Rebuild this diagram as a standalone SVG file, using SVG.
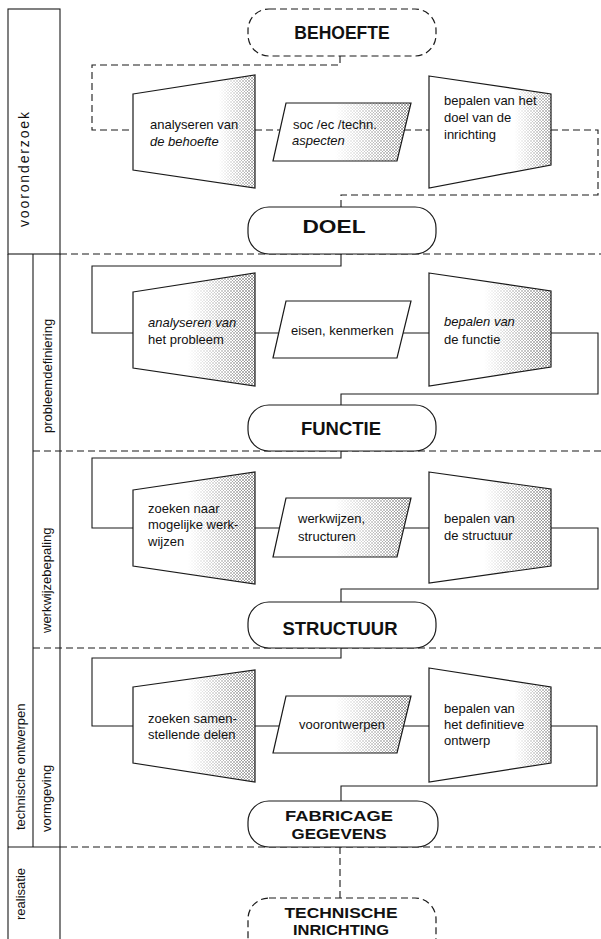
<svg xmlns="http://www.w3.org/2000/svg" width="601" height="939" viewBox="0 0 601 939">
<style>
.bg{fill:#fff}
.line{fill:none;stroke:#1a1a1a;stroke-width:1.1}
.dash{stroke-dasharray:7 4}
.node{fill:#fff;stroke:#1a1a1a;stroke-width:1.2}
.shape{fill:#fff;stroke:none}
.shade{fill:url(#hatch);stroke:none}
.edge{fill:none;stroke:#1a1a1a;stroke-width:1.2}
.t{font-family:"Liberation Sans",Arial,sans-serif;font-size:13px;fill:#111}
.i{font-style:italic}
.b{font-family:"Liberation Sans",Arial,sans-serif;font-weight:bold;font-size:17.5px;fill:#111;text-anchor:middle}
.b2{font-family:"Liberation Sans",Arial,sans-serif;font-weight:bold;font-size:15px;fill:#111;text-anchor:middle}
</style>
<defs>
<pattern id="hatch" width="3" height="3" patternUnits="userSpaceOnUse">
<path d="M0,0 L3,3 M3,0 L0,3" stroke="#555" stroke-width="0.5"/>
</pattern>
<linearGradient id="gR" x1="0" y1="0" x2="1" y2="0">
<stop offset="0.45" stop-color="#000"/>
<stop offset="0.97" stop-color="#fff"/>
</linearGradient>
<linearGradient id="gR2" x1="0" y1="0" x2="1" y2="0">
<stop offset="0.7" stop-color="#000"/>
<stop offset="1" stop-color="#ddd"/>
</linearGradient>
<mask id="mR" maskUnits="objectBoundingBox" maskContentUnits="objectBoundingBox" x="0" y="0" width="1" height="1">
<rect width="1" height="1" fill="url(#gR)"/>
</mask>
<mask id="mR2" maskUnits="objectBoundingBox" maskContentUnits="objectBoundingBox" x="0" y="0" width="1" height="1">
<rect width="1" height="1" fill="url(#gR2)"/>
</mask>
</defs>
<rect class="bg" x="0" y="0" width="601" height="939"/>

<g id="lanes">
<rect class="line" x="8" y="9" width="52" height="245"/>
<path class="line" d="M8,254 V939 M60,254 V939 M33,254 V847 M8,847 H60"/>
<path class="line dash" d="M60,254 H601 M33,451 H601 M33,648 H601 M60,847 H601"/>
<text class="t" transform="translate(29,227) rotate(-90)" style="font-size:14px" textLength="115" lengthAdjust="spacing">vooronderzoek</text>
<text class="t" transform="translate(52,433) rotate(-90)">probleemdefiniering</text>
<text class="t" transform="translate(50.5,633) rotate(-90)">werkwijzebepaling</text>
<text class="t" transform="translate(50.5,832) rotate(-90)">vormgeving</text>
<text class="t" transform="translate(24.5,830) rotate(-90)">technische ontwerpen</text>
<text class="t" transform="translate(25,920) rotate(-90)">realisatie</text>
</g>

<g id="connectors">
<path class="line dash" d="M340,56 V65 H92 V130 H133 M255,130 H280 M404,130 H429 M551,130 H598 V195 H341 V207"/>
<path class="line" d="M341,254 V266 H92 V333 H133 M255,333 H279 M403,333 H429 M551,333 H598 V394 H341 V405"/>
<path class="line" d="M341,451 V458 H92 V528 H133 M255,528 H279 M404,528 H429 M551,528 H598 V589 H341 V602"/>
<path class="line" d="M341,648 V658 H92 V726 H133 M255,726 H279 M404,726 H429 M551,726 H597 V786 H341 V801"/>
<path class="line dash" d="M340,847 V898"/>
</g>

<g id="behoefte">
<rect class="node dash" x="248" y="9" width="188" height="47" rx="21"/>
<text class="b" x="342" y="39">BEHOEFTE</text>
</g>

<g id="analyseren-behoefte">
<polygon class="shape" points="133,94 255,75 255,188 133,170"/>
<polygon class="shade" points="133,94 255,75 255,188 133,170" mask="url(#mR2)"/>
<polygon class="edge" points="133,94 255,75 255,188 133,170"/>
<text class="t" x="150" y="129">analyseren van</text>
<text class="t i" x="150" y="146">de behoefte</text>
</g>

<g id="aspecten">
<polygon class="shape" points="286,103 411,103 397,161 273,161"/>
<polygon class="shade" points="286,103 411,103 397,161 273,161" mask="url(#mR)"/>
<polygon class="edge" points="286,103 411,103 397,161 273,161"/>
<text class="t" x="293" y="129">soc /ec /techn.</text>
<text class="t i" x="292" y="145">aspecten</text>
</g>

<g id="bepalen-doel">
<polygon class="shape" points="429,76 551,94 551,165 429,188"/>
<polygon class="shade" points="429,76 551,94 551,165 429,188" mask="url(#mR2)"/>
<polygon class="edge" points="429,76 551,94 551,165 429,188"/>
<text class="t" x="444" y="105">bepalen van het</text>
<text class="t" x="444" y="122">doel van de</text>
<text class="t" x="444" y="139">inrichting</text>
</g>

<g id="doel">
<rect class="node" x="248" y="207" width="188" height="47" rx="21"/>
<text class="b" x="334" y="233" textLength="63" lengthAdjust="spacingAndGlyphs">DOEL</text>
</g>

<g id="analyseren-probleem">
<polygon class="shape" points="133,292 255,273 255,386 133,368"/>
<polygon class="shade" points="133,292 255,273 255,386 133,368" mask="url(#mR)"/>
<polygon class="edge" points="133,292 255,273 255,386 133,368"/>
<text class="t i" x="148" y="327">analyseren van</text>
<text class="t" x="148" y="344">het probleem</text>
</g>

<g id="eisen">
<polygon class="shape" points="286,301 411,301 397,358 273,358"/>
<polygon class="edge" points="286,301 411,301 397,358 273,358"/>
<text class="t" x="291" y="335">eisen, kenmerken</text>
</g>

<g id="bepalen-functie">
<polygon class="shape" points="429,273 551,291 551,367 429,386"/>
<polygon class="shade" points="429,273 551,291 551,367 429,386" mask="url(#mR)"/>
<polygon class="edge" points="429,273 551,291 551,367 429,386"/>
<text class="t i" x="444" y="326">bepalen van</text>
<text class="t" x="444" y="344">de functie</text>
</g>

<g id="functie">
<rect class="node" x="248" y="405" width="188" height="46" rx="21"/>
<text class="b" x="341" y="435" textLength="80" lengthAdjust="spacingAndGlyphs">FUNCTIE</text>
</g>

<g id="zoeken-werkwijzen">
<polygon class="shape" points="133,490 255,472 255,584 133,566"/>
<polygon class="shade" points="133,490 255,472 255,584 133,566" mask="url(#mR)"/>
<polygon class="edge" points="133,490 255,472 255,584 133,566"/>
<text class="t" x="148" y="513">zoeken naar</text>
<text class="t" x="148" y="529">mogelijke werk-</text>
<text class="t" x="148" y="546">wijzen</text>
</g>

<g id="werkwijzen">
<polygon class="shape" points="286,498 411,498 397,557 273,557"/>
<polygon class="shade" points="286,498 411,498 397,557 273,557" mask="url(#mR)"/>
<polygon class="edge" points="286,498 411,498 397,557 273,557"/>
<text class="t" x="298" y="523">werkwijzen,</text>
<text class="t" x="298" y="541">structuren</text>
</g>

<g id="bepalen-structuur">
<polygon class="shape" points="429,472 551,489 551,566 429,583"/>
<polygon class="shade" points="429,472 551,489 551,566 429,583" mask="url(#mR)"/>
<polygon class="edge" points="429,472 551,489 551,566 429,583"/>
<text class="t" x="444" y="523">bepalen van</text>
<text class="t" x="444" y="540">de structuur</text>
</g>

<g id="structuur">
<rect class="node" x="248" y="602" width="188" height="46" rx="21"/>
<text class="b" x="340" y="635" textLength="115" lengthAdjust="spacingAndGlyphs">STRUCTUUR</text>
</g>

<g id="zoeken-delen">
<polygon class="shape" points="133,687 255,670 255,782 133,763"/>
<polygon class="shade" points="133,687 255,670 255,782 133,763" mask="url(#mR)"/>
<polygon class="edge" points="133,687 255,670 255,782 133,763"/>
<text class="t" x="148" y="723">zoeken samen-</text>
<text class="t" x="148" y="739">stellende delen</text>
</g>

<g id="voorontwerpen">
<polygon class="shape" points="286,696 411,696 397,753 273,753"/>
<polygon class="shade" points="286,696 411,696 397,753 273,753" mask="url(#mR)"/>
<polygon class="edge" points="286,696 411,696 397,753 273,753"/>
<text class="t" x="299" y="729">voorontwerpen</text>
</g>

<g id="bepalen-ontwerp">
<polygon class="shape" points="429,668 551,687 551,763 429,782"/>
<polygon class="shade" points="429,668 551,687 551,763 429,782" mask="url(#mR2)"/>
<polygon class="edge" points="429,668 551,687 551,763 429,782"/>
<text class="t" x="444" y="713">bepalen van</text>
<text class="t" x="444" y="729">het definitieve</text>
<text class="t" x="444" y="745">ontwerp</text>
</g>

<g id="fabricage">
<rect class="node" x="248" y="801" width="190" height="46" rx="21"/>
<text class="b2" x="339" y="821" textLength="108" lengthAdjust="spacingAndGlyphs">FABRICAGE</text>
<text class="b2" x="339" y="839" textLength="95" lengthAdjust="spacingAndGlyphs">GEGEVENS</text>
</g>

<g id="technische-inrichting">
<rect class="node dash" x="248" y="898" width="188" height="60" rx="21"/>
<text class="b2" x="341" y="918" textLength="113" lengthAdjust="spacingAndGlyphs">TECHNISCHE</text>
<text class="b2" x="341" y="935" textLength="96" lengthAdjust="spacingAndGlyphs">INRICHTING</text>
</g>
</svg>
